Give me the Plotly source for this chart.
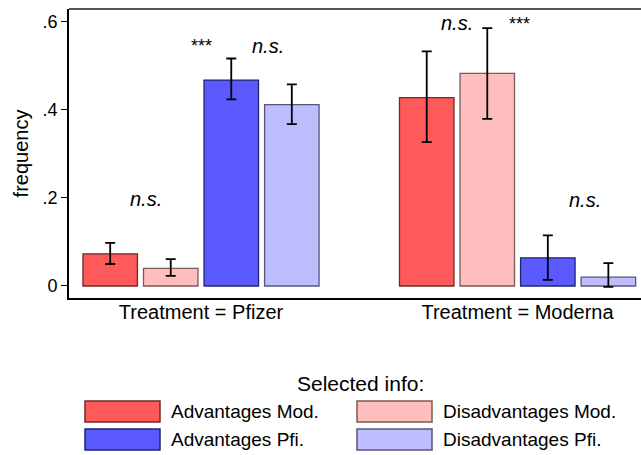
import plotly.graph_objects as go

groups = ["Treatment = Pfizer", "Treatment = Moderna"]
series = ["Advantages Mod.", "Disadvantages Mod.", "Advantages Pfi.", "Disadvantages Pfi."]
values = {
    "Advantages Mod.": [0.073, 0.428],
    "Disadvantages Mod.": [0.040, 0.483],
    "Advantages Pfi.": [0.468, 0.064],
    "Disadvantages Pfi.": [0.412, 0.020],
}
ci_high = {
    "Advantages Mod.": [0.098, 0.533],
    "Disadvantages Mod.": [0.061, 0.586],
    "Advantages Pfi.": [0.517, 0.115],
    "Disadvantages Pfi.": [0.458, 0.052],
}
ci_low = {
    "Advantages Mod.": [0.050, 0.327],
    "Disadvantages Mod.": [0.023, 0.380],
    "Advantages Pfi.": [0.424, 0.014],
    "Disadvantages Pfi.": [0.368, -0.002],
}
fills = ["#FF5A5A", "#FFBEBE", "#5A5AFF", "#BEBEFF"]
outlines = ["#6E2A2A", "#7A5A5A", "#23236E", "#55557A"]

# significance labels: (group index, x offset from group centre, y, text)
sig_labels = [
    (0, 0.000, 0.545, "***"),
    (0, 0.212, 0.545, "n.s."),
    (0, -0.174, 0.197, "n.s."),
    (1, -0.191, 0.598, "n.s."),
    (1, 0.005, 0.595, "***"),
    (1, 0.213, 0.195, "n.s."),
]

W, H = 641, 455
ML, MR, MT, MB = 69, 0, 9, 157
PW, PH = W - ML - MR, H - MT - MB


def px(x):
    return (x - ML) / PW


def py(y):
    return (H - MB - y) / PH


fig = go.Figure()
for i, s in enumerate(series):
    v = values[s]
    hi = [h - x for h, x in zip(ci_high[s], v)]
    lo = [x - l for l, x in zip(ci_low[s], v)]
    fig.add_trace(go.Bar(
        x=groups, y=v, name=s, showlegend=False,
        marker=dict(color=fills[i], line=dict(color=outlines[i], width=1.3)),
        error_y=dict(type="data", symmetric=False, array=hi, arrayminus=lo,
                     color="black", thickness=1.8, width=5),
    ))

for g, off, y, txt in sig_labels:
    italic = txt != "***"
    fig.add_annotation(
        x=g + off, y=y, xref="x", yref="y",
        text=("<i>%s</i>" % txt) if italic else txt,
        showarrow=False, font=dict(size=20 if italic else 18, color="black"),
    )

# legend (drawn manually to match large swatches)
fig.add_annotation(x=px(360), y=py(383), xref="paper", yref="paper",
                   xanchor="center", yanchor="middle",
                   text="Selected info:", showarrow=False,
                   font=dict(size=21, color="black"))
leg_pos = [(85, 401), (357, 401), (85, 429), (357, 429)]
leg_order = ["Advantages Mod.", "Disadvantages Mod.", "Advantages Pfi.", "Disadvantages Pfi."]
for (lx, ly), name in zip(leg_pos, leg_order):
    i = series.index(name)
    fig.add_shape(type="rect", xref="paper", yref="paper",
                  x0=px(lx), x1=px(lx + 75), y0=py(ly), y1=py(ly + 21),
                  fillcolor=fills[i], line=dict(color=outlines[i], width=1.5))
    fig.add_annotation(x=px(lx + 84), y=py(ly + 10.5), xref="paper", yref="paper",
                       xanchor="left", yanchor="middle", text=name, showarrow=False,
                       font=dict(size=19, color="black"))

# top frame line
fig.add_shape(type="line", xref="paper", yref="paper", x0=0, x1=1, y0=1, y1=1,
              line=dict(color="#555555", width=2))

fig.update_layout(
    width=W, height=H,
    margin=dict(l=ML, r=MR, t=MT, b=MB, autoexpand=False),
    paper_bgcolor="white", plot_bgcolor="white",
    barmode="group", bargap=0.235, bargroupgap=0.1,
    showlegend=False,
    font=dict(family="Liberation Sans, Arial", color="black"),
    xaxis=dict(range=[-0.417, 1.39], showline=True, linecolor="black", linewidth=2,
               ticks="", showgrid=False, tickfont=dict(size=20, color="black"),
               ticklabelstandoff=-5,
               zeroline=False, mirror=False),
    yaxis=dict(range=[-0.0273, 0.6295], tickvals=[0, 0.2, 0.4, 0.6],
               ticktext=["0", ".2", ".4", ".6"], showline=True, linecolor="black",
               linewidth=2, ticks="outside", ticklen=6, tickcolor="black",
               showgrid=False, zeroline=False, tickfont=dict(size=18, color="black"),
               title=dict(text="frequency", font=dict(size=20, color="black"), standoff=8)),
)

fig.write_html("out.html")
